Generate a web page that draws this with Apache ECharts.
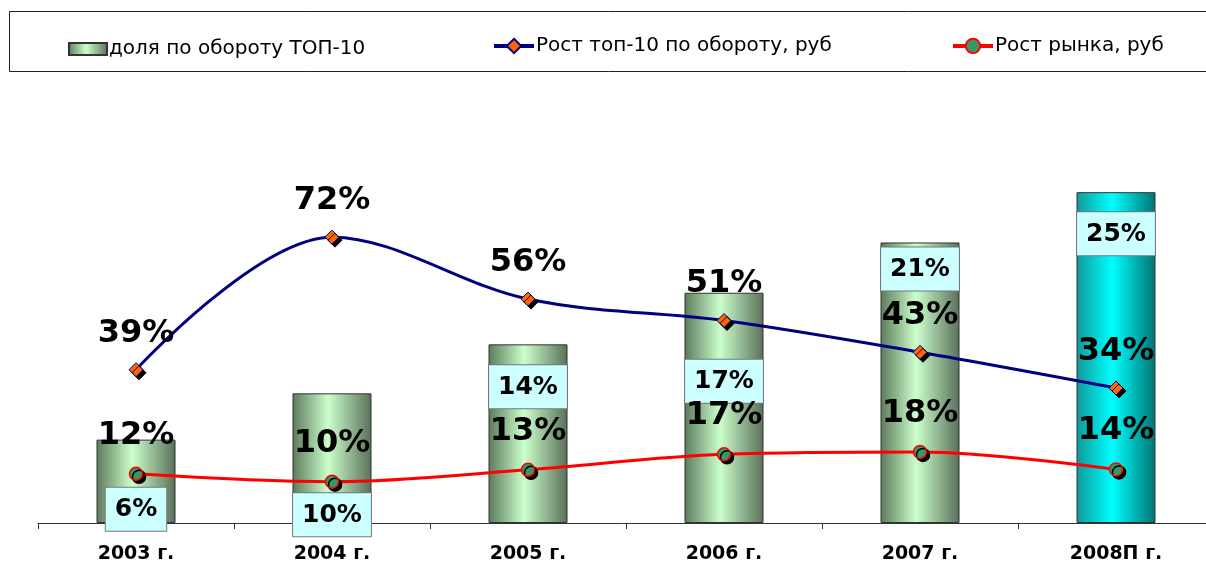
<!DOCTYPE html>
<html><head><meta charset="utf-8">
<script src="https://cdn.jsdelivr.net/npm/echarts@6/dist/echarts.min.js"></script>
<style>html,body{margin:0;padding:0;background:#fff}#c{width:1206px;height:564px}</style>
</head><body><div id="c"></div>
<script>
// ---- data ----
const categories = ['2003 г.', '2004 г.', '2005 г.', '2006 г.', '2007 г.', '2008П г.'];
const shareTop10 = [6.3, 9.8, 13.5, 17.4, 21.2, 25];        // доля по обороту ТОП-10, %
const growthTop10 = [38.6, 72, 56.4, 51, 43, 34];           // Рост топ-10 по обороту, %
const growthMarket = [12.4, 10.4, 13.4, 17.3, 17.9, 13.5];  // Рост рынка, %
const seriesNames = ['доля по обороту ТОП-10', 'Рост топ-10 по обороту, руб', 'Рост рынка, руб'];

// ---- layout tweaks (label box drop below bar top, px) ----
const shareLabelDrop = [48, 100, 21, 67, 5, 20];

const FONT = 'DejaVu Sans';
const pct = p => Math.round(p.value) + '%';
const grad = (edge, mid, edge2) => new echarts.graphic.LinearGradient(0, 0, 1, 0, [
  {offset: 0, color: edge}, {offset: 0.45, color: mid}, {offset: 1, color: edge2}
]);
const greenGrad = grad('#5c7a5c', '#ccffcc', '#5a705a');
const cyanGrad = grad('#119999', '#00ffff', '#007373');

const barData = shareTop10.map((v, i) => ({
  value: v,
  itemStyle: categories[i].indexOf('П') >= 0 ? {color: cyanGrad} : undefined,
  label: {offset: [0, shareLabelDrop[i]]}
}));

const chart = echarts.init(document.getElementById('c'), null, {renderer: 'canvas'});
const legendBase = {
  top: 31, itemWidth: 40, itemHeight: 18, itemGap: 0,
  lineStyle: {width: 4},
  textStyle: {fontFamily: FONT, fontSize: 20, color: '#000', padding: [0, 0, 0, -3]}
};
chart.setOption({
  animation: false,
  backgroundColor: '#fff',
  graphic: [{
    type: 'rect', left: 7, top: 9, z: -1,
    shape: {width: 1220, height: 60},
    style: {fill: 'none', stroke: '#222', lineWidth: 1}
  }],
  legend: [
    Object.assign({}, legendBase, {left: 63, icon: 'rect', itemWidth: 38, itemHeight: 12, top: 34, data: [seriesNames[0]]}),
    Object.assign({}, legendBase, {left: 487, data: [seriesNames[1]]}),
    Object.assign({}, legendBase, {left: 946, data: [seriesNames[2]]})
  ],
  grid: {left: 38, width: 1176, top: 126, bottom: 41, containLabel: false, outerBoundsMode: 'none'},
  xAxis: {
    type: 'category', data: categories, boundaryGap: true,
    axisLine: {lineStyle: {color: '#333', width: 1}},
    axisTick: {show: true, length: 6, lineStyle: {color: '#333'}},
    axisLabel: {fontFamily: FONT, fontSize: 19, fontWeight: 'bold', color: '#000', margin: 22}
  },
  yAxis: [
    {type: 'value', min: 0, max: 100, show: false, splitLine: {show: false}},
    {type: 'value', min: 0, max: 30, show: false, splitLine: {show: false}}
  ],
  series: [
    {
      name: seriesNames[0], type: 'bar', yAxisIndex: 1, barWidth: 79, z: 1,
      itemStyle: {color: greenGrad, borderColor: '#333', borderWidth: 1},
      label: {
        show: true, position: 'insideTop', distance: 0, formatter: pct,
        fontFamily: FONT, fontSize: 25, fontWeight: 'bold', color: '#000', lineHeight: 24,
        backgroundColor: '#ccffff', borderColor: '#777', borderWidth: 1, padding: [10, 9, 9, 9]
      },
      data: barData
    },
    {
      name: seriesNames[1], type: 'line', yAxisIndex: 0, smooth: 0.35, z: 3,
      symbol: 'diamond', symbolSize: 14,
      lineStyle: {color: '#000080', width: 3},
      itemStyle: {color: '#ff6600', borderColor: '#000080', borderWidth: 1,
        shadowColor: '#000', shadowOffsetX: 3, shadowOffsetY: 3, shadowBlur: 0},
      label: {show: true, position: 'top', distance: 13, formatter: pct,
        fontFamily: FONT, fontSize: 32, fontWeight: 'bold', color: '#000'},
      data: growthTop10
    },
    {
      name: seriesNames[2], type: 'line', yAxisIndex: 0, smooth: 0.35, z: 3,
      symbol: 'circle', symbolSize: 13,
      lineStyle: {color: '#ff0000', width: 3},
      itemStyle: {color: '#339966', borderColor: '#ff0000', borderWidth: 1.5,
        shadowColor: '#000', shadowOffsetX: 3, shadowOffsetY: 3, shadowBlur: 0},
      label: {show: true, position: 'top', distance: 15, formatter: pct,
        fontFamily: FONT, fontSize: 32, fontWeight: 'bold', color: '#000'},
      data: growthMarket
    }
  ]
});
</script></body></html>
